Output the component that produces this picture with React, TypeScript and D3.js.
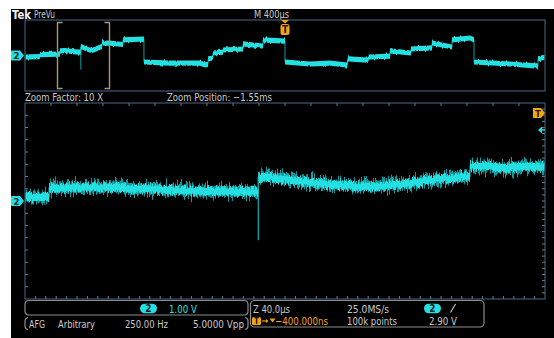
import React from "react";
import * as d3 from "d3";

// ---- acquisition settings ----
const recordSpanMs = 4; // 10 div x 400 µs
const zoomFactor = 10;
const zoomPositionMs = -1.55;
const voltsRange: [number, number] = [-4, 4]; // 8 div x 1.00 V
const triggerLevelV = 2.9;
const triggerTimeMs = 0;

// ---- channel 2 trace: [time ms, volts] ----
const ch2Trace: [number, number][] = [
  [-2.0, -0.17], [-1.885, -0.12], [-1.885, 0.1], [-1.75, 0.16], [-1.7315, 0.16],
  [-1.7315, 0.53], [-1.692, 0.56], [-1.654, 0.48], [-1.615, 0.41], [-1.5705, 0.38],
  [-1.5705, 0.98], [-1.5615, 0.98], [-1.536, 0.79], [-1.51, 0.65], [-1.4846, 0.58],
  [-1.4592, 0.68], [-1.433, 0.89], [-1.4108, 0.99], [-1.4077, 1.0],
  [-1.4077, 1.43], [-1.3923, 1.43], [-1.3823, 1.35], [-1.3692, 1.4], [-1.35, 1.4],
  [-1.246, 1.24], [-1.246, 1.75], [-1.085, 1.86], [-1.085, -0.73],
  [-0.885, -0.85], [-0.654, -0.85], [-0.615, -1.05], [-0.592, -1.0], [-0.592, -0.39],
  [-0.554, -0.28], [-0.554, 0.28], [-0.477, 0.39], [-0.477, 0.62], [-0.323, 0.73],
  [-0.323, 1.3], [-0.169, 1.07], [-0.169, 1.75], [0, 1.63],
  [0, -0.73], [0.192, -0.96], [0.346, -0.85], [0.477, -1.07],
  [0.485, -0.39], [0.638, -0.51], [0.646, -0.17], [0.808, -0.06],
  [0.808, 0.51], [0.969, 0.28], [0.969, 0.73], [1.131, 0.85],
  [1.131, 1.41], [1.285, 0.96], [1.285, 1.75], [1.423, 1.97], [1.454, 1.75],
  [1.454, -0.73], [1.731, -0.96], [1.923, -1.18], [1.946, -1.18], [1.946, -0.39], [2.0, -0.17],
];

// glitch: [time ms, from volts, to volts]
const ch2Glitches: [number, number, number][] = [[-1.5705, 0.98, -1.6]];

// ---- readout texts ----
const brandLabel = "Tek";
const modeLabel = "PreVu";
const timebaseLabel = "M 400µs";
const zoomFactorLabel = "Zoom Factor: 10 X";
const zoomPositionLabel = "Zoom Position: \u22121.55ms";
const channelLabel = "2";
const ch2ScaleLabel = "1.00 V";
const afgLabels = ["AFG", "Arbitrary", "250.00 Hz", "5.0000 Vpp"];
const zoomScaleLabel = "Z 40.0µs";
const sampleRateLabel = "25.0MS/s";
const triggerDelayLabel = "\u2212400.000ns";
const recordLengthLabel = "100k points";
const triggerLevelLabel = "2.90 V";

const CYAN = "#24e0e0";
const CYAN_DIM = "#119aa0";
const ORANGE = "#f2a31c";
const FRAME = "#4a6b8c";
const GREY = "#c9c9c9";
const BOX = "#8c8c8c";
const FONT = "'DejaVu Sans Condensed', 'Liberation Sans Narrow', Roboto, sans-serif";

function Label(props: {
  x: number; y: number; w?: number; size?: number; fill?: string; weight?: number | string; anchor?: string; children: React.ReactNode;
}) {
  const { x, y, w, size = 10.5, fill = GREY, weight = 400, anchor = "start", children } = props;
  return (
    <text
      x={x}
      y={y}
      fontSize={size}
      fill={fill}
      fontWeight={weight}
      fontFamily={FONT}
      textAnchor={anchor}
      textLength={w}
      lengthAdjust={w ? "spacingAndGlyphs" : undefined}
    >
      {children}
    </text>
  );
}

function ChannelMarker({ y }: { y: number }) {
  return (
    <g>
      <path d={`M12,${y - 5} H20 L24,${y} L20,${y + 5} H12 Q11,${y + 5} 11,${y + 4} V${y - 4} Q11,${y - 5} 12,${y - 5} Z`} fill={CYAN} />
      <text x={16.5} y={y + 3.5} fontSize={9.5} fontWeight={700} fill="#0a2a2a" textAnchor="middle" fontFamily={FONT}>
        {channelLabel}
      </text>
    </g>
  );
}

function Pill({ cx, cy }: { cx: number; cy: number }) {
  return (
    <g>
      <rect x={cx - 8.5} y={cy - 4.8} width={17} height={9.6} rx={4.8} fill={CYAN} />
      <text x={cx} y={cy + 3.6} fontSize={10} fontWeight={700} fill="#0a2020" textAnchor="middle" fontFamily={FONT}>
        {channelLabel}
      </text>
    </g>
  );
}

export default function App() {
  const W = 554;
  const H = 338;

  // preview (whole record) and zoom window scales
  const px = d3.scaleLinear().domain([-recordSpanMs / 2, recordSpanMs / 2]).range([25, 545]);
  const py = d3.scaleLinear().domain(voltsRange).range([91, 20]);
  const zoomSpan = recordSpanMs / zoomFactor;
  const zStart = zoomPositionMs - zoomSpan / 2;
  const zEnd = zoomPositionMs + zoomSpan / 2;
  const mx = d3.scaleLinear().domain([zStart, zEnd]).range([25, 545]);
  const my = d3.scaleLinear().domain(voltsRange).range([299, 103]);

  const band = (sx: d3.ScaleLinear<number, number>, sy: d3.ScaleLinear<number, number>, half: number) =>
    d3.area<[number, number]>()
      .x((d) => sx(d[0]))
      .y0((d) => sy(d[1]) - half)
      .y1((d) => sy(d[1]) + half);
  const line = (sx: d3.ScaleLinear<number, number>, sy: d3.ScaleLinear<number, number>) =>
    d3.line<[number, number]>().x((d) => sx(d[0])).y((d) => sy(d[1]));

  const zoomData = ch2Trace.filter((d, i) => {
    const prev = ch2Trace[i - 1];
    const next = ch2Trace[i + 1];
    return (d[0] >= zStart && d[0] <= zEnd) || (next && next[0] > zStart && d[0] < zStart) || (prev && prev[0] < zEnd && d[0] > zEnd);
  });

  // graticule tick positions along the zoom window frame
  const topTicks = d3.range(1, 20).map((i) => 25 + i * 26);
  const bottomTicks = d3.range(1, 50).map((i) => 25 + i * 10.4);
  const leftTicks = d3.range(1, 16).map((i) => 103 + i * 12.25);
  const rightTicks = d3.range(1, 32).map((i) => 103 + i * 6.125);

  const bx0 = px(zStart);
  const bx1 = px(zEnd);
  const tX = px(triggerTimeMs);
  const trigY = my(triggerLevelV);

  return (
    <svg width={W} height={H} style={{ position: "fixed", left: 0, top: 0, display: "block" }}>
      <defs>
        <filter id="jitterMain" filterUnits="userSpaceOnUse" x={0} y={95} width={554} height={210} colorInterpolationFilters="sRGB">
          <feTurbulence type="fractalNoise" baseFrequency="0.95 0.02" numOctaves={2} seed={7} result="n" />
          <feColorMatrix in="n" type="matrix" values="0 0 0 0 0.5  0 1 0 0 0  0 0 0 0 0  0 0 0 0 1" result="m" />
          <feDisplacementMap in="SourceGraphic" in2="m" scale={20} xChannelSelector="R" yChannelSelector="G" />
        </filter>
        <filter id="jitterCore" filterUnits="userSpaceOnUse" x={0} y={95} width={554} height={210} colorInterpolationFilters="sRGB">
          <feTurbulence type="fractalNoise" baseFrequency="0.8 0.03" numOctaves={2} seed={3} result="n" />
          <feColorMatrix in="n" type="matrix" values="0 0 0 0 0.5  0 1 0 0 0  0 0 0 0 0  0 0 0 0 1" result="m" />
          <feDisplacementMap in="SourceGraphic" in2="m" scale={9} xChannelSelector="R" yChannelSelector="G" />
        </filter>
        <filter id="jitterPrev" filterUnits="userSpaceOnUse" x={0} y={10} width={554} height={90} colorInterpolationFilters="sRGB">
          <feTurbulence type="fractalNoise" baseFrequency="0.5 0.05" numOctaves={1} seed={5} result="n" />
          <feColorMatrix in="n" type="matrix" values="0 0 0 0 0.5  0 1 0 0 0  0 0 0 0 0  0 0 0 0 1" result="m" />
          <feDisplacementMap in="SourceGraphic" in2="m" scale={3} xChannelSelector="R" yChannelSelector="G" />
        </filter>
        <clipPath id="mainClip">
          <rect x={25.5} y={103.5} width={519} height={195} />
        </clipPath>
        <clipPath id="prevClip">
          <rect x={25.5} y={20.5} width={519} height={70} />
        </clipPath>
      </defs>

      <rect x={0} y={0} width={W} height={H} fill="#ffffff" />
      <rect x={11} y={9} width={W - 11} height={H - 9} fill="#000000" />

      {/* header */}
      <Label x={12} y={18.5} w={19} size={12} weight={700} fill="#f2f2f2">{brandLabel}</Label>
      <Label x={34} y={18} w={21} size={10.5}>{modeLabel}</Label>
      <Label x={254} y={18} w={35} size={10.5}>{timebaseLabel}</Label>

      {/* preview window */}
      <g clipPath="url(#prevClip)">
        <path d={line(px, py)(ch2Trace) ?? ""} fill="none" stroke={CYAN_DIM} strokeWidth={1} />
        {ch2Glitches.map((g, i) => (
          <line key={i} x1={px(g[0])} x2={px(g[0])} y1={py(g[1])} y2={py(g[2])} stroke={CYAN_DIM} strokeWidth={1} />
        ))}
        <path d={band(px, py, 2.6)(ch2Trace) ?? ""} fill={CYAN} filter="url(#jitterPrev)" />
      </g>
      <rect x={25} y={20} width={520} height={71} fill="none" stroke={FRAME} strokeWidth={1} />

      {/* zoom bracket */}
      <g stroke="#a8997a" strokeWidth={1.4} fill="none">
        <path d={`M${bx0 + 5},22.5 H${bx0} V88.5 H${bx0 + 5}`} />
        <path d={`M${bx1 - 5},22.5 H${bx1} V88.5 H${bx1 - 5}`} />
      </g>

      {/* trigger position marker */}
      <path d={`M${tX - 4},20 H${tX + 4} L${tX},23.5 Z`} fill={ORANGE} />
      <rect x={tX - 4.5} y={24} width={9} height={11} rx={2.5} fill={ORANGE} />
      <text x={tX} y={33} fontSize={10} fontWeight={700} fill="#2a1800" textAnchor="middle" fontFamily={FONT}>T</text>

      <ChannelMarker y={py(0)} />

      {/* zoom readouts */}
      <Label x={25} y={100.5} w={78} size={10}>{zoomFactorLabel}</Label>
      <Label x={167} y={100.5} w={105} size={10}>{zoomPositionLabel}</Label>

      {/* zoom window */}
      <g stroke="#6d7f90" strokeWidth={1}>
        {topTicks.map((x) => <line key={`t${x}`} x1={x} x2={x} y1={103} y2={106} />)}
        {bottomTicks.map((x) => <line key={`b${x}`} x1={x} x2={x} y1={299} y2={296} />)}
        {leftTicks.map((y) => <line key={`l${y}`} x1={25} x2={28} y1={y} y2={y} />)}
        {rightTicks.map((y) => <line key={`r${y}`} x1={545} x2={542} y1={y} y2={y} />)}
      </g>
      <g clipPath="url(#mainClip)">
        <path d={line(mx, my)(zoomData) ?? ""} fill="none" stroke={CYAN_DIM} strokeWidth={1.2} />
        {ch2Glitches.map((g, i) => (
          <line key={i} x1={mx(g[0])} x2={mx(g[0])} y1={my(g[1])} y2={my(g[2])} stroke={CYAN_DIM} strokeWidth={1.4} />
        ))}
        <path d={band(mx, my, 5.5)(zoomData) ?? ""} fill={CYAN_DIM} filter="url(#jitterMain)" />
        <path d={band(mx, my, 4)(zoomData) ?? ""} fill={CYAN} filter="url(#jitterCore)" />
      </g>
      <rect x={25} y={103} width={520} height={196} fill="none" stroke={FRAME} strokeWidth={1} />

      {/* off-screen trigger and trigger level indicators */}
      <path d="M533,108 H541 L545,113 L541,118 H533 Z" fill={ORANGE} />
      <text x={538} y={116.5} fontSize={9.5} fontWeight={700} fill="#2a1800" textAnchor="middle" fontFamily={FONT}>T</text>
      <path d={`M538,${trigY} L542,${trigY - 3.5} V${trigY + 3.5} Z`} fill={CYAN} />
      <line x1={541} x2={545} y1={trigY} y2={trigY} stroke={CYAN} strokeWidth={1.5} />

      <ChannelMarker y={my(0)} />

      {/* channel readout */}
      <path d="M29,300.5 H244 Q248,300.5 248,304.5 V311 Q248,315 244,315 H29 Q25,315 25,311 V304.5 Q25,300.5 29,300.5 Z" fill="none" stroke={BOX} strokeWidth={1.2} />
      <Pill cx={148.5} cy={308.5} />
      <Label x={169} y={312.5} w={28} size={11} fill={CYAN}>{ch2ScaleLabel}</Label>

      {/* AFG readout */}
      <path d="M28,317.5 Q25,318 25,321 V326 Q25,329 28,329.5" fill="none" stroke={BOX} strokeWidth={1.2} />
      <path d="M245,317.5 Q248,318 248,321 V326 Q248,329 245,329.5" fill="none" stroke={BOX} strokeWidth={1.2} />
      <Label x={29} y={327.5} w={16} size={11}>{afgLabels[0]}</Label>
      <Label x={58} y={327.5} w={37} size={11}>{afgLabels[1]}</Label>
      <Label x={125} y={327.5} w={43} size={11}>{afgLabels[2]}</Label>
      <Label x={193} y={327.5} w={51} size={11}>{afgLabels[3]}</Label>

      {/* timebase readout */}
      <rect x={250.5} y={300.5} width={233.5} height={26.5} rx={4} fill="none" stroke={BOX} strokeWidth={1.2} />
      <Label x={253} y={312.5} w={37} size={11}>{zoomScaleLabel}</Label>
      <Label x={347} y={312.5} w={42} size={11}>{sampleRateLabel}</Label>
      <Pill cx={432.5} cy={308.5} />
      <line x1={450.5} x2={455.5} y1={312.5} y2={304} stroke={GREY} strokeWidth={1.1} />
      <rect x={252} y={317} width={9} height={8} rx={1.5} fill={ORANGE} />
      <text x={256.5} y={324} fontSize={8} fontWeight={700} fill="#2a1800" textAnchor="middle" fontFamily={FONT}>T</text>
      <line x1={262} x2={267} y1={321} y2={321} stroke={ORANGE} strokeWidth={1.2} />
      <path d="M266,319 L268.5,321 L266,323 Z" fill={ORANGE} />
      <path d="M269.5,318.5 H275.5 L272.5,322.5 Z" fill={ORANGE} />
      <Label x={275} y={325} w={53} size={11} fill={ORANGE}>{triggerDelayLabel}</Label>
      <Label x={347} y={325} w={50} size={11}>{recordLengthLabel}</Label>
      <Label x={429} y={325} w={28} size={11}>{triggerLevelLabel}</Label>
    </svg>
  );
}
